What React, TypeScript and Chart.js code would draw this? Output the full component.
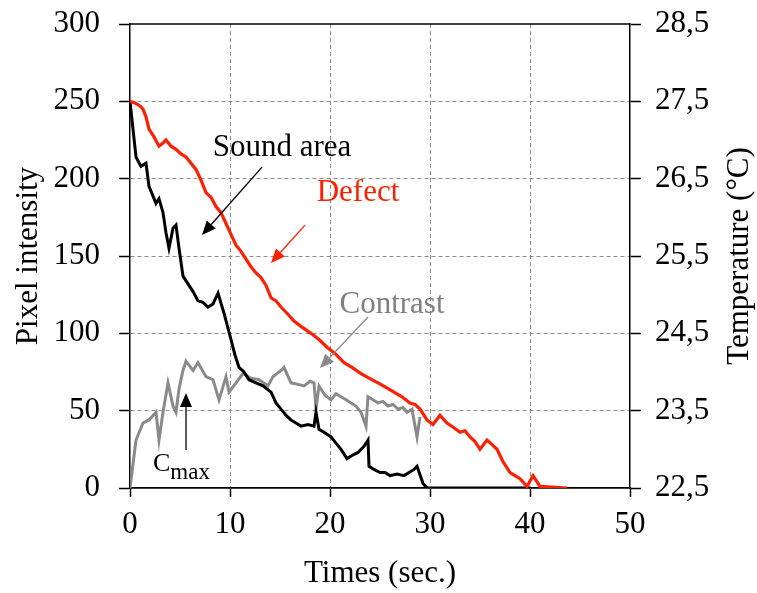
import React, { useEffect, useRef } from "react";
import { Chart, registerables } from "chart.js";

Chart.register(...registerables);

// ---- Data ----
const defectTime = [0, 0.5, 1.0, 1.3, 1.6, 1.9, 2.4, 2.9, 3.3, 3.6, 4.1, 4.6, 5.1, 5.6, 6.1, 6.6, 7.1, 7.6, 8.1, 8.6, 9.1, 9.6, 10.1, 10.6, 11.1, 11.6, 12.1, 12.6, 13.1, 13.6, 14.1, 14.6, 15.1, 15.7, 16.4, 17.2, 18.1, 18.9, 19.7, 20.5, 21.4, 22.2, 23.1, 23.9, 24.8, 25.6, 26.4, 27.2, 28, 28.5, 29, 29.7, 30.3, 31, 31.7, 32.4, 33, 33.5, 34, 34.5, 35, 35.7, 36.2, 36.7, 37.3, 38, 38.5, 39, 39.7, 40.3, 41, 43.7];
const defectValue = [250, 249, 247, 245, 240, 232, 227, 221, 223, 225, 221, 219, 216, 214, 210, 206, 199, 191, 188, 182, 178, 171, 164, 157, 153, 148, 143, 139, 136, 131, 123, 121, 117, 113, 108, 104, 100, 96, 91, 87, 81, 78, 74, 71, 68, 65, 62, 59, 55, 54, 51, 44, 41, 47, 42, 39, 36, 37, 33, 30, 25, 31, 28, 25, 17, 10, 8, 6, 1, 8, 1, 0];

const soundTime = [0, 0.3, 0.6, 1.1, 1.6, 1.9, 2.6, 2.9, 3.3, 3.6, 3.9, 4.3, 4.6, 4.9, 5.3, 5.8, 6.3, 6.8, 7.3, 7.8, 8.3, 8.8, 9.4, 10.1, 10.5, 10.9, 11.4, 11.9, 12.6, 13.3, 14.1, 14.6, 15.1, 15.6, 16.1, 16.6, 17.1, 17.8, 18.4, 18.6, 18.9, 19.4, 20.1, 20.6, 21.1, 21.7, 22.2, 22.8, 23.4, 23.8, 23.9, 24.4, 25, 25.5, 26, 26.7, 27.4, 27.9, 28.4, 28.7, 29.3, 29.7, 40];
const soundValue = [250, 232, 214, 208, 210, 195, 184, 187, 178, 165, 155, 168, 170, 155, 137, 132, 127, 121, 120, 117, 119, 126, 113, 96, 86, 78, 75, 70, 68, 66, 62, 55, 51, 47, 44, 42, 40, 41, 40, 49, 38, 36, 33, 29, 25, 19, 21, 23, 27, 31, 14, 12, 10, 10, 8, 9, 8, 10, 12, 14, 3, 0, 0];

const contrastTime = [0, 0.6, 1.3, 1.9, 2.6, 2.9, 3.3, 3.8, 4.3, 4.6, 4.9, 5.3, 5.6, 6.3, 6.8, 7.6, 8.3, 8.9, 9.6, 9.9, 10.6, 11.3, 12.1, 12.9, 13.8, 14.3, 15.1, 15.4, 16.1, 16.8, 17.4, 18.0, 18.4, 18.6, 18.9, 19.5, 20.1, 20.6, 21.1, 21.6, 22.1, 22.6, 23.1, 23.6, 23.8, 24.3, 24.8, 25.3, 25.8, 26.3, 26.8, 27.3, 27.7, 28.2, 28.7, 29];
const contrastValue = [0, 31, 42, 44, 49, 31, 49, 68, 53, 49, 64, 76, 82, 76, 81, 72, 70, 57, 72, 62, 68, 74, 71, 70, 66, 72, 76, 78, 68, 67, 66, 69, 68, 51, 66, 60, 57, 61, 59, 57, 55, 53, 49, 40, 59, 57, 55, 56, 53, 54, 51, 52, 49, 51, 33, 46];

const xTicks = [0, 10, 20, 30, 40, 50];
const leftTicks = [0, 50, 100, 150, 200, 250, 300];
const rightTicks = [22.5, 23.5, 24.5, 25.5, 26.5, 27.5, 28.5];

const xTitle = "Times (sec.)";
const leftTitle = "Pixel intensity";
const rightTitle = "Temperature (°C)";

// annotation anchors in data units
const labelNames = ["Sound area", "Defect", "Contrast"];
const labelX = [15.2, 22.8, 26.2];
const labelY = [219.8, 190.7, 118.3];
const arrowStartX = [13.2, 17.5, 23.8, 5.6];
const arrowStartY = [207.5, 170, 110.6, 24.6];
const arrowEndX = [7.2, 14.1, 19.0, 5.6];
const arrowEndY = [163.6, 145.5, 77.6, 61.4];
const cmaxX = 2.3;
const cmaxY = 10.8;

const FONT = "'Liberation Serif', 'Times New Roman', serif";
const RED = "rgb(255,32,0)";
const GRAY = "#8a8a8a";
const labelColors = ["#000", RED, "#808080"];
const arrowColors = ["#000", RED, "#8a8a8a", "#000"];

function drawArrow(ctx: CanvasRenderingContext2D, x1: number, y1: number, x2: number, y2: number, color: string) {
  const ang = Math.atan2(y2 - y1, x2 - x1);
  const hl = 14, hw = 6;
  const bx = x2 - hl * Math.cos(ang), by = y2 - hl * Math.sin(ang);
  ctx.strokeStyle = color;
  ctx.fillStyle = color;
  ctx.lineWidth = 1.3;
  ctx.beginPath();
  ctx.moveTo(x1, y1);
  ctx.lineTo(bx, by);
  ctx.stroke();
  ctx.beginPath();
  ctx.moveTo(x2, y2);
  ctx.lineTo(bx + hw * Math.sin(ang), by - hw * Math.cos(ang));
  ctx.lineTo(bx - hw * Math.sin(ang), by + hw * Math.cos(ang));
  ctx.closePath();
  ctx.fill();
}

const overlay = {
  id: "overlay",
  afterDraw(chart: any) {
    const { ctx, chartArea, scales } = chart;
    const xs = scales.x, ys = scales.y;
    ctx.save();
    // top frame line
    ctx.strokeStyle = "#000";
    ctx.lineWidth = 1.5;
    ctx.beginPath();
    ctx.moveTo(chartArea.left, chartArea.top);
    ctx.lineTo(chartArea.right, chartArea.top);
    ctx.stroke();

    const cy = (chartArea.top + chartArea.bottom) / 2;
    ctx.fillStyle = "#000";
    ctx.font = `31px ${FONT}`;
    ctx.textAlign = "center";
    ctx.textBaseline = "middle";
    // left title
    ctx.save();
    ctx.translate(chartArea.left - 101, cy);
    ctx.rotate(-Math.PI / 2);
    ctx.fillText(leftTitle, 0, 0);
    ctx.restore();
    // right title
    ctx.save();
    ctx.translate(chartArea.right + 110, cy);
    ctx.rotate(-Math.PI / 2);
    ctx.fillText(rightTitle, 0, 0);
    ctx.restore();
    // bottom title
    ctx.fillText(xTitle, (chartArea.left + chartArea.right) / 2, chartArea.bottom + 86);

    // annotation labels
    for (let i = 0; i < labelNames.length; i++) {
      ctx.fillStyle = labelColors[i];
      ctx.fillText(labelNames[i], xs.getPixelForValue(labelX[i]), ys.getPixelForValue(labelY[i]));
    }
    // arrows
    for (let i = 0; i < arrowStartX.length; i++) {
      drawArrow(
        ctx,
        xs.getPixelForValue(arrowStartX[i]),
        ys.getPixelForValue(arrowStartY[i]),
        xs.getPixelForValue(arrowEndX[i]),
        ys.getPixelForValue(arrowEndY[i]),
        arrowColors[i]
      );
    }
    // C max
    ctx.fillStyle = "#000";
    ctx.textAlign = "left";
    ctx.textBaseline = "alphabetic";
    const cx = xs.getPixelForValue(cmaxX);
    const cby = ys.getPixelForValue(cmaxY);
    ctx.font = `26px ${FONT}`;
    ctx.fillText("C", cx, cby);
    const cw = ctx.measureText("C").width;
    ctx.font = `23px ${FONT}`;
    ctx.fillText("max", cx + cw, cby + 8);
    ctx.restore();
  },
};

export default function App() {
  const ref = useRef<HTMLCanvasElement | null>(null);
  useEffect(() => {
    if (!ref.current) return;
    const gridColor = (c: any) => {
      const v = c.tick ? c.tick.value : null;
      return v === 0 || v === 300 || (v === 50 && c.scale.axis === "x") ? "rgba(0,0,0,0)" : "#8c8c8c";
    };
    const noVertPad = (s: any) => { s.paddingTop = 0; s.paddingBottom = 0; };
    const chart = new Chart(ref.current, {
      type: "line",
      data: {
        datasets: [
          {
            label: "Defect",
            data: defectTime.map((t, i) => ({ x: t, y: defectValue[i] })),
            borderColor: RED,
            borderWidth: 3.2,
            pointRadius: 0,
            tension: 0,
          },
          {
            label: "Sound area",
            data: soundTime.map((t, i) => ({ x: t, y: soundValue[i] })),
            borderColor: "#000",
            borderWidth: 3,
            pointRadius: 0,
            tension: 0,
          },
          {
            label: "Contrast",
            data: contrastTime.map((t, i) => ({ x: t, y: contrastValue[i] })),
            borderColor: GRAY,
            borderWidth: 3,
            pointRadius: 0,
            tension: 0,
          },
        ],
      },
      options: {
        responsive: false,
        animation: false,
        layout: { padding: { top: 24, left: 0, right: 0, bottom: 0 } },
        plugins: { legend: { display: false }, tooltip: { enabled: false } },
        scales: {
          x: {
            type: "linear",
            min: 0,
            max: 50,
            afterBuildTicks: (s: any) => { s.ticks = xTicks.map((v) => ({ value: v })); },
            afterFit: (s: any) => { s.height = 105; s.paddingLeft = 0; s.paddingRight = 0; },
            ticks: { font: { family: FONT, size: 31 }, color: "#000", padding: 9, maxRotation: 0, autoSkip: false },
            grid: { color: gridColor, lineWidth: 1, tickColor: "#000", tickLength: 9, tickWidth: 1.5 },
            border: { color: "#000", width: 1.8, dash: [4, 3] },
          },
          y: {
            type: "linear",
            position: "left",
            min: 0,
            max: 300,
            afterBuildTicks: (s: any) => { s.ticks = leftTicks.map((v) => ({ value: v })); },
            afterFit: (s: any) => { s.width = 130; noVertPad(s); },
            ticks: { font: { family: FONT, size: 31 }, color: "#000", padding: 19 },
            grid: { color: gridColor, lineWidth: 1, tickColor: "#000", tickLength: 11, tickWidth: 1.5 },
            border: { color: "#000", width: 1.5, dash: [4, 3] },
          },
          y2: {
            type: "linear",
            position: "right",
            min: 22.5,
            max: 28.5,
            afterBuildTicks: (s: any) => { s.ticks = rightTicks.map((v) => ({ value: v })); },
            afterFit: (s: any) => { s.width = 127; noVertPad(s); },
            ticks: {
              font: { family: FONT, size: 31 },
              color: "#000",
              padding: 14,
              callback: (v: any) => Number(v).toFixed(1).replace(".", ","),
            },
            grid: { drawOnChartArea: false, tickColor: "#000", tickLength: 11, tickWidth: 1.5 },
            border: { color: "#000", width: 1.5 },
          },
        },
      },
      plugins: [overlay],
    } as any);
    return () => chart.destroy();
  }, []);
  return (
    <div style={{ position: "absolute", left: 0, top: 0, width: 757, height: 593, background: "#fff" }}>
      <canvas ref={ref} width={757} height={593} />
    </div>
  );
}
